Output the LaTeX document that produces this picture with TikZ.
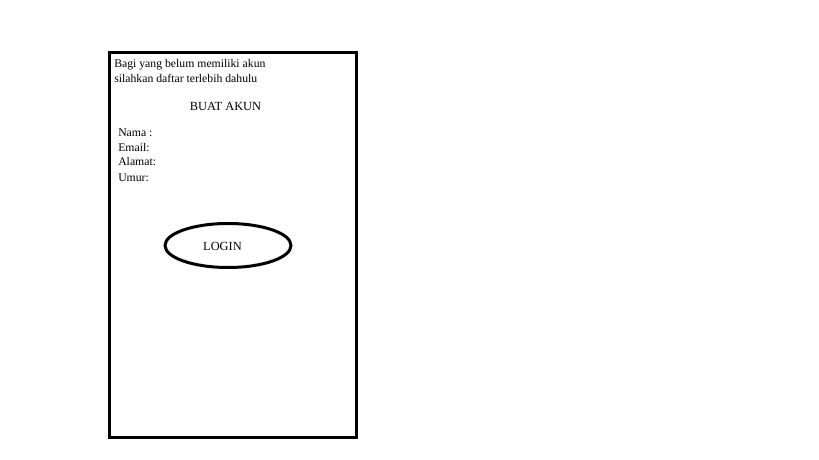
\documentclass[tikz,border=0pt]{standalone}
\usepackage{fontspec}
\setmainfont{Liberation Serif}
\usetikzlibrary{shapes.geometric}
\begin{document}
\begin{tikzpicture}[x=0.75pt,y=-0.75pt,
    txt/.style={anchor=base west,inner sep=0pt,font=\fontsize{8.8}{11}\selectfont}]
  \useasboundingbox[fill=white] (0,0) rectangle (819,460);
  % frame of the page
  \draw[line width=2.25pt] (109.5,52.5) rectangle (356.5,437.5);
  \node[txt] (intro1) at (114,68) {Bagi yang belum memiliki akun};
  \node[txt] (intro2) at (114,82.5) {silahkan daftar terlebih dahulu};
  \node[txt,anchor=base,font=\fontsize{9.3}{11}\selectfont] (buat) at (225.5,111) {BUAT AKUN};
  \node[txt] (nama) at (118,137) {Nama :};
  \node[txt] (email) at (118,151.5) {Email:};
  \node[txt] (alamat) at (118,166) {Alamat:};
  \node[txt] (umur) at (118,181) {Umur:};
  % button
  \node[draw,ellipse,line width=2.25pt,minimum width=94.5pt,minimum height=33pt,inner sep=0pt]
    (btn) at (228,245.5) {};
  \node[txt,anchor=base,font=\fontsize{9.3}{11}\selectfont] (login) at (222.5,250) {LOGIN};
\end{tikzpicture}
\end{document}
